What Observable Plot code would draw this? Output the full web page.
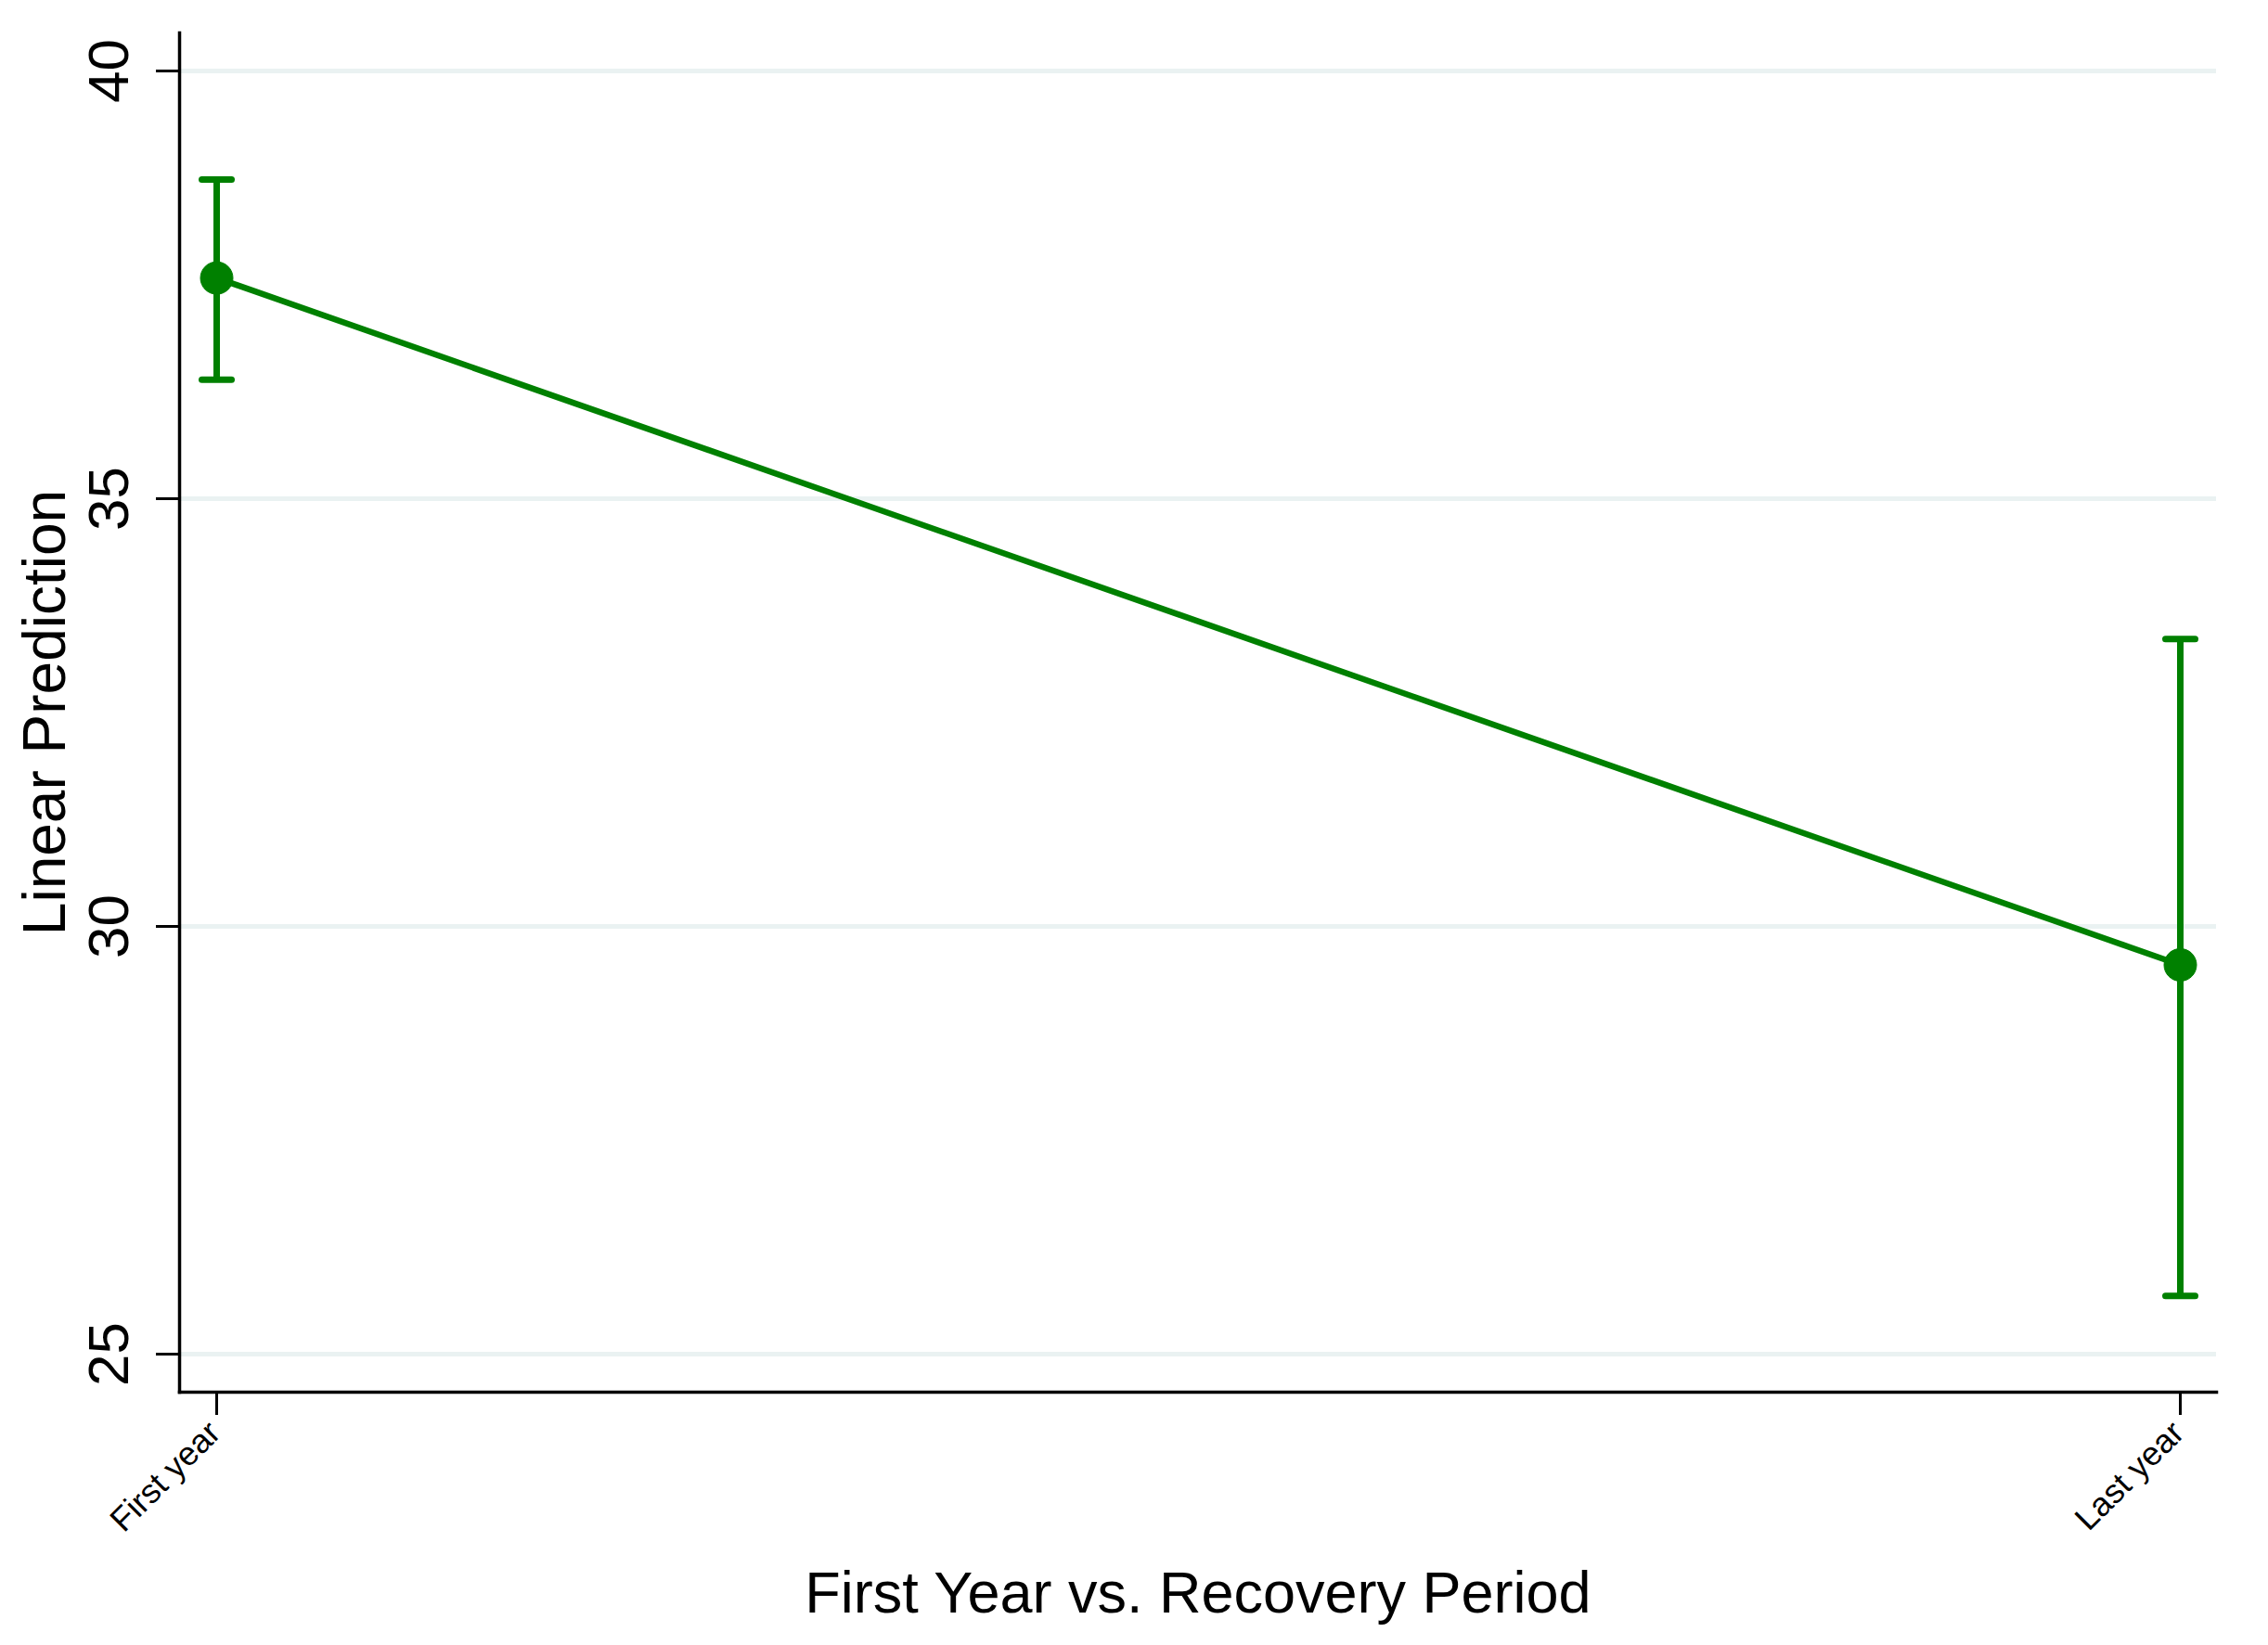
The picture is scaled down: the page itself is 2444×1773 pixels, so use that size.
<!DOCTYPE html>
<html>
<head>
<meta charset="utf-8">
<script src="https://cdn.jsdelivr.net/npm/d3@7"></script>
<script src="https://cdn.jsdelivr.net/npm/@observablehq/plot@0.6"></script>
<style>
  html, body { margin: 0; padding: 0; background: #ffffff; }
  #chart svg { display: block; }
</style>
</head>
<body>
<div id="chart"></div>
<script>
const periods = ["First year", "Last year"];
const means = [37.58, 29.55];
const lower = [36.39, 25.68];
const upper = [38.73, 33.36];
const yTicks = [25, 30, 35, 40];
const xTitle = "First Year vs. Recovery Period";
const yTitle = "Linear Prediction";

const data = periods.map((p, i) => ({period: p, mean: means[i], lo: lower[i], hi: upper[i]}));
const green = "#008000";

// horizontal-line symbol for the error-bar caps (half-length = r)
const capSymbol = {
  draw(context, size) {
    const w = Math.sqrt(size / Math.PI);
    context.moveTo(-w, 0);
    context.lineTo(w, 0);
  }
};

const chart = Plot.plot({
  width: 2444,
  height: 1773,
  marginTop: 35,
  marginLeft: 193,
  marginRight: 56,
  marginBottom: 273,
  style: {background: "#ffffff", fontFamily: "'Liberation Sans', Arial, Helvetica, sans-serif", color: "#000000"},
  x: {type: "point", domain: periods, padding: 0.0185},
  y: {domain: [24.555, 40.445]},
  marks: [
    Plot.ruleY(yTicks, {stroke: "#eaf2f2", strokeWidth: 5}),
    Plot.axisY({ticks: yTicks, tickSize: 25, tickPadding: 31, tickRotate: -90, fontSize: 62, strokeWidth: 3, label: null, fill: "#000"}),
    Plot.axisX({tickSize: 25, tickFormat: () => "", strokeWidth: 3, label: null}),
    Plot.axisX({tickSize: 0, tickPadding: 28, tickRotate: -45, textAnchor: "end", lineAnchor: "top", fontSize: 36, dx: -12, label: null, fill: "#000"}),
    Plot.frame({anchor: "left", stroke: "#000", strokeWidth: 3.5}),
    Plot.frame({anchor: "bottom", stroke: "#000", strokeWidth: 3.5}),
    Plot.ruleX(data, {x: "period", y1: "lo", y2: "hi", stroke: green, strokeWidth: 7}),
    Plot.dot(data, {x: "period", y: "lo", r: 16, symbol: capSymbol, fill: "none", stroke: green, strokeWidth: 7, strokeLinecap: "round"}),
    Plot.dot(data, {x: "period", y: "hi", r: 16, symbol: capSymbol, fill: "none", stroke: green, strokeWidth: 7, strokeLinecap: "round"}),
    Plot.line(data, {x: "period", y: "mean", stroke: green, strokeWidth: 6.5}),
    Plot.dot(data, {x: "period", y: "mean", r: 17.5, fill: green, stroke: green, strokeWidth: 1}),
    Plot.text([xTitle], {frameAnchor: "bottom", dy: 237, lineAnchor: "bottom", fontSize: 63, fill: "#000"}),
    Plot.text([yTitle], {frameAnchor: "left", dx: -124, rotate: -90, lineAnchor: "bottom", textAnchor: "middle", fontSize: 64, fill: "#000"})
  ]
});
document.getElementById("chart").appendChild(chart);
</script>
</body>
</html>
